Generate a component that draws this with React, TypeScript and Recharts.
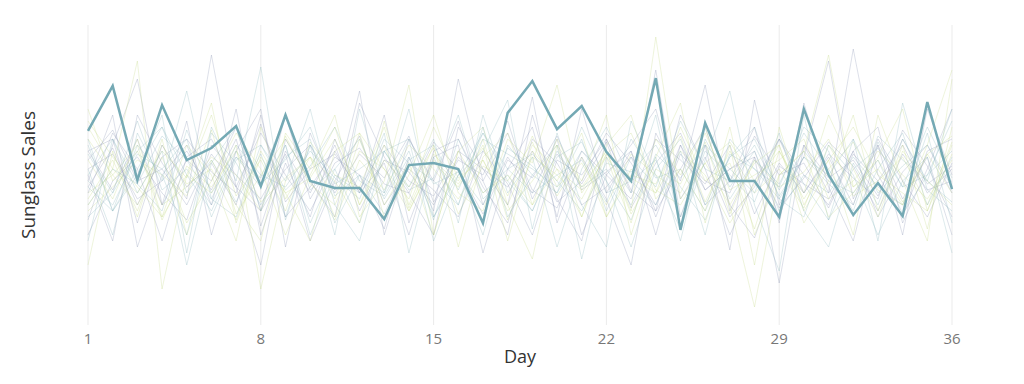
import React from 'react';
import { LineChart, Line, XAxis, YAxis, CartesianGrid } from 'recharts';

// days on the x axis
const days = Array.from({ length: 36 }, (_, i) => i + 1);
const dayTicks = [1, 8, 15, 22, 29, 36];

// the highlighted series
const highlight = [
  64.7, 79.7, 48.3, 73.3, 55, 59, 66.3, 46.3, 70, 48, 45.7, 45.7, 35.3, 53.3, 54, 52, 34, 70.7,
  81.3, 65.3, 73, 57.7, 48, 82.3, 31.7, 67.3, 48, 48, 36, 72, 50, 36.7, 47.3, 36.3, 74.3, 45.3,
];

// faint background series
const bg1 = [58, 45, 62, 40, 55, 48, 66, 38, 52, 60, 44, 57, 49, 63, 41, 55, 50, 68, 42, 57, 47, 61, 39, 54, 64, 45, 52, 58, 36, 60, 49, 55, 43, 62, 47, 53];
const bg2 = [42, 55, 38, 60, 47, 52, 35, 58, 44, 49, 62, 40, 55, 46, 59, 37, 53, 48, 61, 43, 56, 36, 50, 47, 63, 41, 58, 44, 52, 39, 60, 46, 55, 41, 57, 44];
const bg3 = [50, 62, 47, 38, 65, 44, 56, 49, 70, 45, 52, 34, 58, 62, 47, 51, 40, 59, 53, 44, 66, 48, 35, 57, 49, 60, 42, 55, 47, 64, 52, 38, 61, 46, 50, 68];
const bg4 = [30, 48, 56, 44, 35, 60, 50, 42, 57, 28, 48, 63, 40, 52, 45, 36, 58, 47, 30, 55, 50, 62, 45, 38, 52, 66, 40, 29, 53, 47, 42, 58, 36, 51, 60, 44];
const bg5 = [66, 52, 44, 58, 49, 70, 43, 55, 38, 61, 50, 46, 66, 39, 57, 48, 62, 35, 56, 50, 42, 57, 64, 45, 40, 54, 61, 48, 58, 42, 55, 66, 50, 44, 38, 57];
const bg6 = [48, 40, 57, 52, 62, 36, 55, 60, 45, 53, 66, 48, 43, 58, 35, 62, 44, 52, 57, 48, 38, 54, 51, 60, 46, 35, 57, 52, 42, 56, 47, 40, 63, 55, 48, 41];
const bg7 = [55, 65, 48, 52, 40, 57, 46, 64, 50, 38, 54, 59, 47, 44, 61, 52, 37, 55, 49, 63, 45, 51, 58, 36, 57, 48, 44, 63, 50, 54, 39, 57, 48, 60, 44, 52];
const bg8 = [44, 50, 60, 35, 53, 46, 58, 41, 49, 56, 42, 64, 52, 38, 55, 47, 59, 43, 63, 46, 54, 40, 57, 50, 44, 61, 37, 55, 46, 51, 62, 43, 48, 56, 40, 61];
const bg9 = [62, 38, 52, 66, 44, 55, 41, 57, 36, 60, 47, 52, 58, 45, 49, 70, 42, 50, 38, 56, 61, 44, 48, 55, 36, 58, 50, 41, 62, 47, 35, 52, 59, 46, 66, 49];
const bg10 = [52, 57, 42, 48, 58, 45, 62, 33, 58, 44, 60, 38, 55, 51, 40, 56, 48, 64, 45, 39, 58, 50, 42, 62, 55, 47, 60, 37, 54, 44, 57, 49, 42, 65, 53, 36];
const bg11 = [38, 46, 55, 50, 43, 65, 37, 50, 62, 48, 35, 55, 45, 60, 52, 42, 55, 38, 48, 60, 36, 57, 49, 44, 58, 50, 34, 47, 60, 38, 52, 61, 45, 40, 57, 63];
const bg12 = [57, 44, 68, 45, 52, 40, 58, 47, 55, 66, 43, 50, 37, 55, 60, 45, 64, 52, 44, 50, 55, 41, 62, 49, 52, 38, 56, 62, 45, 58, 48, 44, 55, 37, 50, 58];
const bg13 = [46, 59, 40, 56, 62, 51, 44, 67, 41, 52, 57, 45, 60, 48, 43, 58, 52, 46, 58, 41, 48, 64, 54, 40, 60, 45, 52, 56, 39, 49, 61, 53, 38, 57, 45, 48];
const bg14 = [72, 48, 58, 40, 46, 56, 50, 38, 63, 47, 40, 58, 52, 42, 66, 49, 55, 40, 60, 52, 45, 58, 37, 52, 47, 64, 45, 50, 55, 62, 42, 48, 58, 50, 42, 55];
const bg15 = [40, 52, 47, 63, 55, 42, 60, 50, 46, 58, 49, 42, 62, 54, 48, 40, 62, 57, 52, 46, 62, 38, 56, 46, 68, 52, 48, 60, 43, 56, 50, 62, 44, 53, 60, 46];
const bg16 = [35, 60, 82, 40, 68, 30, 58, 72, 26, 64, 45, 78, 30, 56, 38, 82, 48, 30, 70, 42, 28, 62, 44, 85, 36, 60, 25, 75, 40, 56, 88, 42, 60, 30, 72, 50];
const bg17 = [20, 58, 36, 62, 30, 55, 40, 28, 64, 52, 70, 36, 48, 80, 30, 58, 66, 40, 22, 60, 48, 70, 30, 56, 74, 34, 60, 20, 66, 40, 55, 30, 70, 48, 28, 82];
const bg18 = [60, 38, 50, 70, 24, 66, 48, 86, 35, 60, 30, 72, 44, 62, 28, 50, 58, 75, 32, 64, 40, 26, 68, 50, 32, 55, 78, 40, 18, 70, 35, 62, 28, 74, 45, 38];
const bg19 = [48, 70, 26, 50, 60, 40, 72, 30, 54, 36, 62, 44, 70, 34, 56, 60, 24, 52, 66, 36, 72, 44, 58, 30, 60, 40, 48, 66, 34, 74, 46, 28, 60, 42, 56, 30];
const bg20 = [55, 42, 62, 36, 50, 74, 34, 56, 44, 28, 58, 64, 36, 50, 70, 44, 38, 62, 54, 80, 44, 56, 34, 62, 50, 66, 40, 54, 60, 34, 48, 70, 38, 60, 32, 66];
const bg21 = [52, 30, 64, 48, 78, 42, 36, 60, 48, 72, 40, 28, 58, 46, 62, 34, 70, 44, 56, 26, 52, 66, 48, 40, 58, 30, 62, 52, 46, 66, 58, 36, 52, 64, 40, 56];
const bg22 = [44, 64, 52, 28, 56, 62, 46, 38, 70, 42, 56, 50, 32, 62, 48, 68, 40, 56, 44, 62, 30, 50, 60, 72, 42, 56, 36, 46, 62, 50, 40, 58, 66, 34, 52, 72];
const bg23 = [62, 50, 40, 56, 34, 48, 64, 52, 30, 50, 66, 40, 60, 38, 54, 46, 60, 28, 58, 48, 64, 36, 52, 44, 66, 48, 54, 32, 58, 44, 70, 52, 36, 58, 48, 40];
const bg24 = [36, 44, 58, 66, 50, 38, 56, 46, 60, 34, 52, 62, 42, 56, 36, 50, 64, 48, 38, 58, 46, 52, 40, 56, 28, 62, 46, 58, 38, 50, 44, 56, 46, 40, 64, 34];
const bg25 = [50, 28, 70, 54, 42, 90, 46, 20, 62, 48, 36, 74, 56, 44, 30, 66, 52, 40, 76, 34, 56, 42, 20, 64, 48, 80, 38, 56, 14, 60, 44, 92, 50, 36, 58, 62];
const bg26 = [68, 56, 46, 36, 60, 50, 28, 66, 42, 56, 48, 34, 68, 40, 60, 26, 56, 64, 40, 52, 36, 60, 70, 42, 52, 38, 66, 30, 50, 58, 36, 44, 56, 72, 38, 60];
const bg27 = [46, 38, 60, 50, 30, 64, 54, 40, 56, 62, 34, 50, 44, 72, 36, 52, 30, 60, 50, 44, 58, 48, 26, 52, 62, 40, 56, 66, 42, 36, 60, 50, 30, 48, 56, 24];
const bg28 = [58, 62, 34, 60, 46, 54, 40, 70, 36, 46, 58, 44, 54, 30, 58, 62, 46, 34, 62, 54, 40, 46, 56, 38, 70, 52, 30, 48, 62, 44, 56, 40, 62, 48, 36, 54];
const bg29 = [40, 52, 88, 12, 50, 44, 60, 12, 48, 56, 36, 62, 40, 54, 30, 58, 44, 50, 40, 62, 46, 58, 38, 96, 42, 54, 40, 6, 50, 58, 90, 46, 52, 40, 60, 85];
const bg30 = [28, 62, 44, 58, 20, 54, 66, 38, 60, 30, 50, 44, 64, 24, 56, 40, 66, 36, 50, 60, 22, 56, 44, 70, 32, 60, 52, 44, 64, 38, 26, 54, 40, 62, 48, 72];

const background = [
  bg1, bg2, bg3, bg4, bg5, bg6, bg7, bg8, bg9, bg10, bg11, bg12, bg13, bg14, bg15,
  bg16, bg17, bg18, bg19, bg20, bg21, bg22, bg23, bg24, bg25, bg26, bg27, bg28, bg29, bg30,
];
const bgColors = ['#8e99b5', '#c8dc8a', '#8fb8c0'];

const data = days.map((day, i) => {
  const row: Record<string, number> = { day, main: highlight[i] };
  background.forEach((s, k) => {
    row[`bg${k}`] = s[i];
  });
  return row;
});

export default function App() {
  return (
    <div style={{ fontFamily: '"Open Sans", sans-serif' }}>
      <LineChart width={1008} height={368} data={data} margin={{ top: 17, right: 64, left: 8, bottom: 0 }}>
        <CartesianGrid horizontal={false} stroke="#ebebeb" />
        <XAxis
          dataKey="day"
          type="number"
          domain={[1, 36]}
          ticks={dayTicks}
          axisLine={false}
          tickLine={false}
          height={51}
          tick={{ fill: '#777', fontSize: 15 }}
          label={(props: any) => {
            const vb = props.viewBox;
            return (
              <text x={vb.x + vb.width / 2} y={vb.y + 31} textAnchor="middle" dominantBaseline="central" fill="#333" fontSize={18}>
                Day
              </text>
            );
          }}
        />
        <YAxis
          domain={[0, 100]}
          width={72}
          tick={false}
          axisLine={false}
          tickLine={false}
          label={(props: any) => {
            const vb = props.viewBox;
            const cx = vb.x + 12;
            const cy = vb.y + vb.height / 2;
            return (
              <text x={cx} y={cy} transform={`rotate(-90 ${cx} ${cy})`} textAnchor="middle" dominantBaseline="central" fill="#333" fontSize={19}>
                Sunglass Sales
              </text>
            );
          }}
        />
        {background.map((_, k) => (
          <Line
            key={k}
            type="linear"
            dataKey={`bg${k}`}
            stroke={bgColors[k % 3]}
            strokeOpacity={0.3}
            strokeWidth={1}
            dot={false}
            activeDot={false}
            isAnimationActive={false}
          />
        ))}
        <Line type="linear" dataKey="main" stroke="#74a9b4" strokeWidth={2.5} dot={false} isAnimationActive={false} />
      </LineChart>
    </div>
  );
}
